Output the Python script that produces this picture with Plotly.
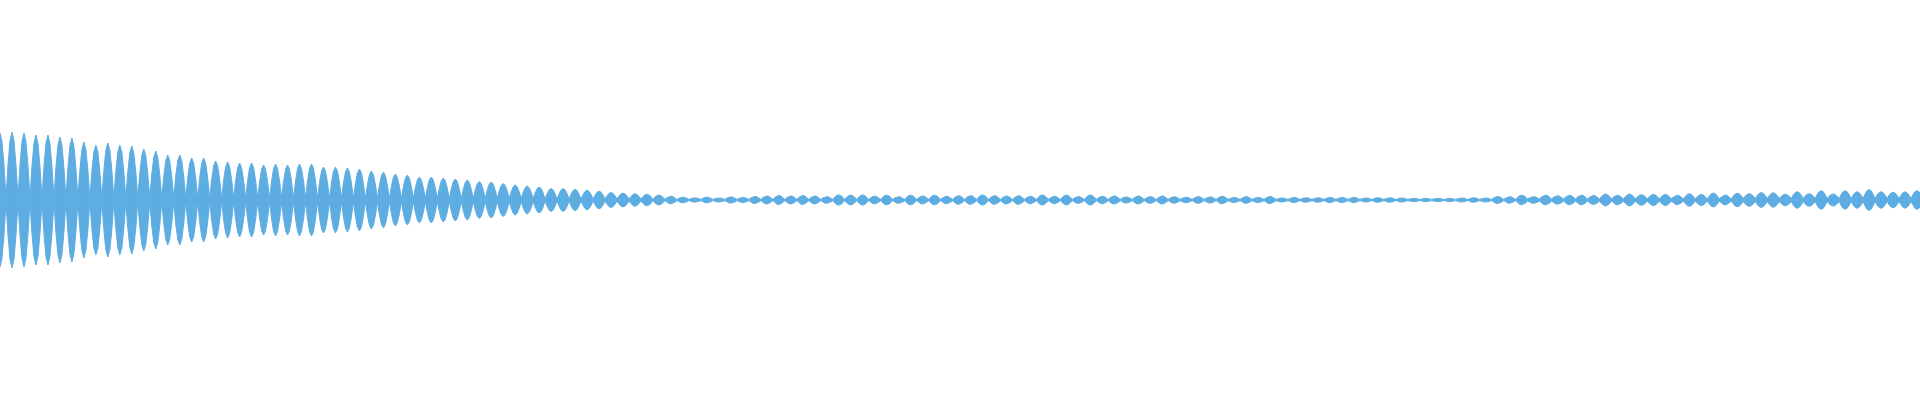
import plotly.graph_objects as go

# Peak (half-height) amplitude of each wave lobe, in px of a 400 px tall frame
peaks_a = [67, 68, 67, 65, 65, 63, 62, 58, 55, 57, 55, 54, 51, 49, 45, 45, 42, 42,
           39, 38, 37, 37, 35, 36, 35, 36, 36, 33, 33, 32, 31, 29, 28, 26, 25, 23,
           23, 22, 21, 20, 18.5, 18, 16.5, 15, 14, 13, 11.5, 11.5, 10.7, 9.8, 8.8, 7.5,
           6.9, 6.2]
peaks_b = [5.8, 5, 3.8, 2.8, 2.1, 2.9, 2, 3.2, 2.6, 3.6, 4.1, 4.6, 4.1, 4.6, 4.1, 3.3,
           5.1, 4.9, 5.1, 3.9, 4.8, 3.3, 4.8, 4.1, 4.8, 3.8, 4.4, 4.4, 5.1, 4.4, 4.1,
           4.4, 3.8, 5.1, 3.8, 4.9, 3.4, 5.1, 3.8, 4.1, 3.1, 4.1, 3.4, 4.1, 3.3, 2.8,
           3.4, 3.1, 3.8, 2.6, 3.4, 2.6, 3.6]
peaks_c = [2, 2.6, 2.3, 2.3, 2.6, 2.6, 2.6, 2, 2.3, 2.3, 2, 1.6, 1.6, 1.6, 1.6, 2, 2.3, 2,
           3.6, 3.3, 4.8, 3.3, 4.9, 4.3, 4.8, 4.9, 4.6, 5.9, 4.8, 5.9, 5.3, 5.6, 5.6, 4.8, 6.3,
           5.5, 7, 5, 6.8, 6.3, 7.5, 7.2, 5.8, 8.3, 6.3, 9.3, 6, 9.3, 8.3, 10.5, 8.3,
           7.8, 8.2, 9.3]
peaks = peaks_a + peaks_b + peaks_c

# Amplitude at the narrow waist between consecutive lobes
nodes_a = [2, 2, 2, 2, 2, 2, 2, 2, 2, 2, 2, 2, 2, 2, 2, 2, 2, 2, 2, 2,
           1.8, 1.8, 1.8, 1.8, 1.8, 1.8, 1.8, 1.8, 1.8, 1.8,
           1.5, 1.5, 1.5, 1.5, 1.5, 1.5, 1.5, 1.5, 1.5, 1.5, 1.5, 1.5, 1.5, 1.5, 1.5,
           1, 1, 1, 1, 1, 1, 1, 1, 1]
nodes_b = [0.6, 0.6, 0.6, 0.6, 0.6, 0.6, 0.6, 0.6, 0.6, 0.6,
           0.6, 0.6, 0.6, 0.6, 0.6, 0.6, 0.6, 0.6, 0.6, 0.6,
           0.6, 0.6, 0.6, 0.6, 0.6, 0.6, 0.6, 0.6, 0.6, 0.6,
           0.6, 0.6, 0.6, 0.6, 0.6, 0.6, 0.6, 0.6, 0.6, 0.6,
           0.6, 0.6, 0.6, 0.6, 0.6, 0.6, 0.6, 0.6, 0.6, 0.6,
           0.6, 0.6, 0.6]
nodes_c = [0.5, 0.5, 0.5, 0.5, 0.5, 0.5, 0.5, 0.5, 0.5, 0.5,
           0.5, 0.5, 0.5, 0.5, 0.5, 0.5, 0.5, 0.5, 0.5, 0.5,
           1, 1, 1, 1, 1, 1, 1, 1, 1, 1, 1, 1, 1, 1, 1, 1, 1, 1,
           1.5, 1.5, 1.5, 1.5, 1.5, 1.5, 1.5, 1.5, 1.5, 1.5, 1.5, 1.5, 1.5, 1.5, 1.5]
nodes = nodes_a + nodes_b + nodes_c

# Style: outline of one lobe (half-sine), sampled from waist to peak
LOBE_STEPS = [(1 / 6, 0.5), (2 / 6, 0.866)]
COLOR = "#5dade2"

xs, env = [], []
for i, p in enumerate(peaks):
    left = nodes[i - 1] if i > 0 else nodes[0]
    right = nodes[i] if i < len(nodes) else nodes[-1]
    for off, f in LOBE_STEPS:
        xs.append(i - 0.5 + off)
        env.append(left + (p - left) * f)
    xs.append(i)
    env.append(p)
    for off, f in reversed(LOBE_STEPS):
        xs.append(i + 0.5 - off)
        env.append(right + (p - right) * f)
    if i < len(nodes):
        xs.append(i + 0.5)
        env.append(nodes[i])

fig = go.Figure()
fig.add_trace(go.Scatter(
    x=xs + xs[::-1],
    y=env + [-v for v in env[::-1]],
    mode="lines",
    fill="toself",
    fillcolor=COLOR,
    line=dict(color=COLOR, width=1),
    hoverinfo="skip",
    showlegend=False,
))

fig.update_layout(
    width=1920, height=400,
    margin=dict(l=0, r=0, t=0, b=0),
    paper_bgcolor="white", plot_bgcolor="white",
    xaxis=dict(visible=False, range=[0, 160.25], fixedrange=True),
    yaxis=dict(visible=False, range=[-200, 200], fixedrange=True),
)

fig.write_html("out.html", config={"displayModeBar": False},
               post_script="document.body.style.margin='0';document.body.style.overflow='hidden';")
